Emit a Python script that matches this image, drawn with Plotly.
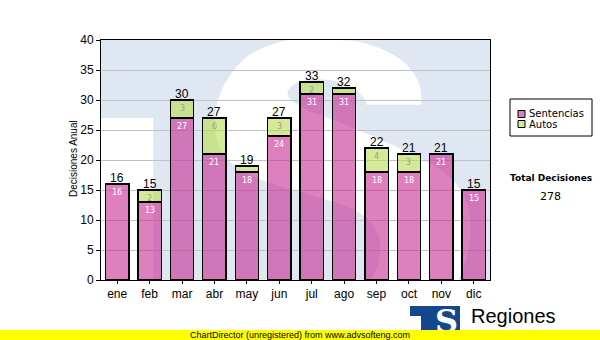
import plotly.graph_objects as go

# --- data -------------------------------------------------------------
meses = ["ene", "feb", "mar", "abr", "may", "jun", "jul", "ago", "sep", "oct", "nov", "dic"]
sentencias = [16, 13, 27, 21, 18, 24, 31, 31, 18, 18, 21, 15]
autos = [0, 2, 3, 6, 1, 3, 2, 1, 4, 3, 0, 0]
totales = [s + a for s, a in zip(sentencias, autos)]
total_decisiones = sum(totales)

# --- geometry ---------------------------------------------------------
W, H = 600, 340
L, R, T, B = 101, 490, 40, 280  # plot area (pixels)


def paper(px, py):
    """Pixel position on the page -> paper coordinates."""
    return (px - L) / (R - L), (B - py) / (B - T)


PINK = "rgba(200,43,147,0.6)"
GREEN = "rgba(183,220,80,0.6)"
TXT = "Liberation Sans, Arial, sans-serif"
TXT2 = "DejaVu Sans, Verdana, sans-serif"

# --- watermark "S" outline on a 1167 x 720 grid spanning the plot area -
GX, GY = 1167.0, 720.0
s_outer = [(962, 194), (955, 134), (917, 74), (847, 29), (757, 2), (680, 0),
           (560, 0), (447, 44), (382, 114), (347, 194), (342, 264), (362, 334),
           (417, 389), (507, 429), (627, 464), (737, 499), (807, 544),
           (837, 604), (832, 674), (807, 720)]
s_inner = [(1072, 720), (1097, 654), (1109, 564), (1092, 474), (1037, 404),
           (947, 349), (827, 294), (707, 244), (607, 204), (562, 169),
           (572, 139), (622, 119), (697, 122), (757, 144), (792, 179), (797, 194)]
t_gap = (0, 234, 157, 720)  # white area left of the T stem


def g2p(p):
    return (p[0] / GX, 1 - p[1] / GY)


def clamp(v):
    return min(1.0, max(0.0, v))


def smooth(pts):
    out = []
    n = len(pts)
    for i in range(n - 1):
        p0 = pts[i - 1] if i > 0 else pts[i]
        p1, p2 = pts[i], pts[i + 1]
        p3 = pts[i + 2] if i + 2 < n else pts[i + 1]
        c1 = (clamp(p1[0] + (p2[0] - p0[0]) / 6), clamp(p1[1] + (p2[1] - p0[1]) / 6))
        c2 = (clamp(p2[0] - (p3[0] - p1[0]) / 6), clamp(p2[1] - (p3[1] - p1[1]) / 6))
        out.append(f"C {c1[0]:.4f},{c1[1]:.4f} {c2[0]:.4f},{c2[1]:.4f} {p2[0]:.4f},{p2[1]:.4f}")
    return out


A = [g2p(p) for p in s_outer]
Bp = [g2p(p) for p in s_inner]
s_path = " ".join([f"M {A[0][0]:.4f},{A[0][1]:.4f}"] + smooth(A)
                  + [f"L {Bp[0][0]:.4f},{Bp[0][1]:.4f}"] + smooth(Bp) + ["Z"])

# --- traces -----------------------------------------------------------
fig = go.Figure()
fig.add_trace(go.Bar(x=meses, y=sentencias, name="Sentencias",
                     marker=dict(color=PINK, line=dict(color="black", width=1.3))))
fig.add_trace(go.Bar(x=meses, y=[a if a else None for a in autos], name="Autos",
                     marker=dict(color=GREEN, line=dict(color="black", width=1.3))))

shapes = []
# watermark
shapes.append(dict(type="rect", xref="paper", yref="paper", layer="below",
                   x0=t_gap[0] / GX, x1=t_gap[2] / GX,
                   y0=1 - t_gap[3] / GY, y1=1 - t_gap[1] / GY,
                   fillcolor="white", line=dict(width=0)))
shapes.append(dict(type="path", xref="paper", yref="paper", layer="below",
                   path=s_path, fillcolor="white", line=dict(width=0)))


def prect(x0, y0, x1, y1, **kw):
    a, b = paper(x0, y1)
    c, d = paper(x1, y0)
    return dict(type="rect", xref="paper", yref="paper", x0=a, y0=b, x1=c, y1=d, **kw)


# legend box
shapes.append(prect(510, 99, 592, 136, fillcolor="white", line=dict(color="black", width=1)))
shapes.append(prect(518, 110.5, 525, 117.5, fillcolor=PINK, line=dict(color="black", width=1)))
shapes.append(prect(518, 120.5, 525, 127.5, fillcolor=GREEN, line=dict(color="black", width=1)))
# logo block
shapes.append(prect(410, 306, 460, 338, fillcolor="#15478d", line=dict(width=0)))
shapes.append(prect(410, 316, 421, 338, fillcolor="white", line=dict(width=0)))

annotations = []
# value labels
for m, tot, s, a in zip(meses, totales, sentencias, autos):
    annotations.append(dict(x=m, y=tot, xref="x", yref="y", text=str(tot), showarrow=False,
                            xanchor="center", yanchor="bottom", yshift=-3,
                            font=dict(family=TXT, size=12, color="black")))
    annotations.append(dict(x=m, y=s, xref="x", yref="y", text=str(s), showarrow=False,
                            xanchor="center", yanchor="middle", yshift=-8,
                            font=dict(family=TXT2, size=8, color="white")))
    if a >= 2:
        annotations.append(dict(x=m, y=tot, xref="x", yref="y", text=str(a), showarrow=False,
                                xanchor="center", yanchor="middle", yshift=-8,
                                font=dict(family=TXT2, size=8, color="#9c9c9c")))


def pann(px, py, text, xanchor="center", yanchor="middle", **kw):
    x, y = paper(px, py)
    d = dict(x=x, y=y, xref="paper", yref="paper", text=text, showarrow=False,
             xanchor=xanchor, yanchor=yanchor)
    d.update(kw)
    return d


# axis title
annotations.append(pann(73, 159, "Decisiones Anual", textangle=-90,
                        font=dict(family=TXT, size=10, color="black")))
# legend texts
annotations.append(pann(527, 113.8, "Sentencias", xanchor="left",
                        font=dict(family=TXT2, size=10, color="black")))
annotations.append(pann(527, 124.8, "Autos", xanchor="left",
                        font=dict(family=TXT2, size=10, color="black")))
# total
annotations.append(pann(551, 178, "<b>Total Decisiones</b>",
                        font=dict(family=TXT2, size=9, color="black")))
annotations.append(pann(550, 196, str(total_decisiones),
                        font=dict(family=TXT2, size=11, color="black")))
# logo texts
annotations.append(pann(446, 321, "<b>S</b>", font=dict(family="DejaVu Serif, serif", size=32, color="white")))
annotations.append(pann(469, 316, "Regiones", xanchor="left",
                        font=dict(family=TXT, size=20, color="black")))
annotations.append(pann(469, 334, "Tribunal Supremo de Justicia", xanchor="left",
                        font=dict(family=TXT, size=9, color="black")))
# footer band
annotations.append(pann(0, 340, "ChartDirector (unregistered) from www.advsofteng.com",
                        xanchor="left", yanchor="bottom", width=600, height=10,
                        bgcolor="#ffff00", borderpad=0, borderwidth=0, align="center",
                        font=dict(family=TXT, size=9, color="black")))

fig.update_layout(
    width=W, height=H,
    margin=dict(l=L, r=W - R, t=T, b=H - B, pad=0),
    paper_bgcolor="white",
    plot_bgcolor="rgb(223,232,242)",
    barmode="stack",
    bargap=0.28,
    showlegend=False,
    font=dict(family=TXT, size=12, color="black"),
    shapes=shapes,
    annotations=annotations,
)
fig.update_xaxes(type="category", showline=True, linecolor="black", linewidth=1, mirror=True,
                 ticks="outside", ticklen=3, tickcolor="black", showgrid=False,
                 tickfont=dict(family=TXT, size=12, color="black"))
fig.update_yaxes(range=[0, 40], tick0=0, dtick=5, showgrid=True, gridcolor="#c2c2c2", gridwidth=1,
                 showline=True, linecolor="black", linewidth=1, mirror=True, zeroline=False,
                 ticks="outside", ticklen=4, tickcolor="black",
                 tickfont=dict(family=TXT, size=12, color="black"))

fig.write_html("out.html")
